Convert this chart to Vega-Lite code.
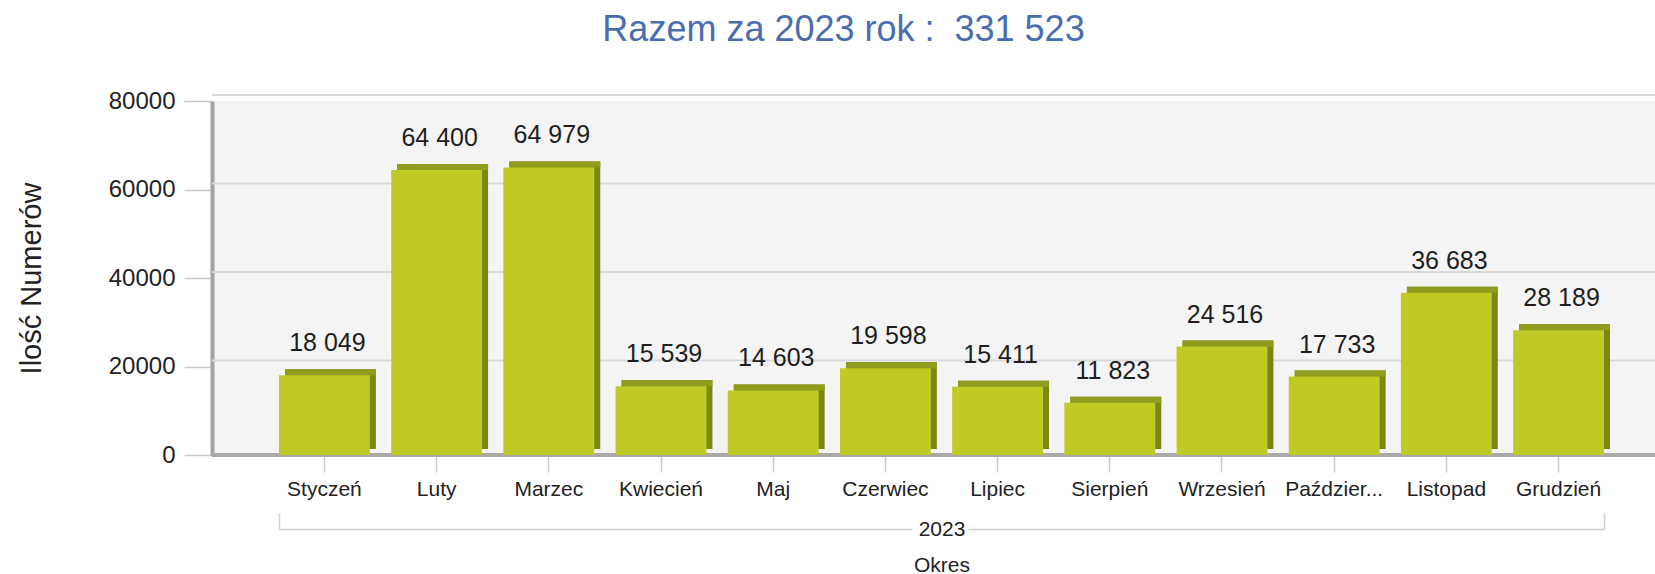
{
  "$schema": "https://vega.github.io/schema/vega-lite/v6.json",
  "width": 1443,
  "height": 354,
  "autosize": {"type": "none"},
  "padding": {"left": 212, "top": 101, "right": 0, "bottom": 119},
  "background": "white",
  "title": {
    "text": "Razem za 2023 rok :\u00a0 331 523",
    "anchor": "middle",
    "frame": "group",
    "dx": -90,
    "offset": 12,
    "baseline": "alphabetic",
    "font": "Liberation Sans",
    "fontSize": 36,
    "fontWeight": "normal",
    "color": "#4a6db0"
  },
  "config": {
    "view": {"fill": "#f4f4f4", "stroke": null},
    "locale": {"number": {"decimal": ",", "thousands": " ", "grouping": [3], "currency": ["", " zł"]}},
    "axis": {"grid": false, "labelFont": "Liberation Sans", "titleFont": "Liberation Sans"}
  },
  "datasets": {
    "months": [
      {"miesiac": "Styczeń", "rok": "2023", "wartosc": 18049},
      {"miesiac": "Luty", "rok": "2023", "wartosc": 64400},
      {"miesiac": "Marzec", "rok": "2023", "wartosc": 64979},
      {"miesiac": "Kwiecień", "rok": "2023", "wartosc": 15539},
      {"miesiac": "Maj", "rok": "2023", "wartosc": 14603},
      {"miesiac": "Czerwiec", "rok": "2023", "wartosc": 19598},
      {"miesiac": "Lipiec", "rok": "2023", "wartosc": 15411},
      {"miesiac": "Sierpień", "rok": "2023", "wartosc": 11823},
      {"miesiac": "Wrzesień", "rok": "2023", "wartosc": 24516},
      {"miesiac": "Październik", "rok": "2023", "wartosc": 17733},
      {"miesiac": "Listopad", "rok": "2023", "wartosc": 36683},
      {"miesiac": "Grudzień", "rok": "2023", "wartosc": 28189}
    ],
    "grid": [{"g": 20000}, {"g": 40000}, {"g": 60000}, {"g": 80000}]
  },
  "layer": [
    {
      "data": {"name": "months"},
      "layer": [
        {
          "data": {"name": "grid"},
          "mark": {"type": "rule", "color": "#d9d9d9", "strokeWidth": 2, "yOffset": -6, "xOffset": 6},
          "encoding": {
            "y": {
              "field": "g",
              "type": "quantitative",
              "scale": {"domain": [0, 80000], "nice": false},
              "axis": {
                "title": "Ilość Numerów",
                "values": [0, 20000, 40000, 60000, 80000],
                "format": "d",
                "labelFontSize": 24,
                "labelColor": "#222222",
                "labelPadding": 9,
                "tickSize": 28,
                "tickColor": "#c8c8c8",
                "tickWidth": 1.5,
                "domainColor": "#a3a3a3",
                "domainWidth": 4,
                "titleFontSize": 29,
                "titleFontWeight": "normal",
                "titleColor": "#222222",
                "titleX": -172,
                "titleY": 177,
                "titleBaseline": "alphabetic"
              }
            }
          }
        },
        {
          "data": {"name": "grid"},
          "mark": {"type": "rule", "color": "#a9a9a9", "strokeWidth": 4},
          "encoding": {"y": {"datum": 0, "type": "quantitative"}}
        },
        {
          "mark": {"type": "bar", "color": "#7c8613", "xOffset": 6, "yOffset": -6},
          "encoding": {
            "x": {
              "field": "miesiac",
              "type": "nominal",
              "sort": null,
              "scale": {"type": "band", "range": [67, 1392], "paddingInner": 0.19, "paddingOuter": 0},
              "axis": {
                "title": null,
                "labelAngle": 0,
                "labelAlign": "center",
                "labelFontSize": 21,
                "labelColor": "#222222",
                "labelPadding": 6,
                "tickSize": 17,
                "tickColor": "#cccccc",
                "tickWidth": 1.5,
                "domain": false,
                "labelExpr": "datum.label == 'Październik' ? 'Paździer...' : datum.label"
              }
            },
            "y": {"field": "wartosc", "type": "quantitative"}
          }
        },
        {
          "mark": {"type": "bar", "color": "#8f9c1d", "xOffset": 6, "yOffset": -6},
          "encoding": {
            "x": {"field": "miesiac", "type": "nominal", "sort": null},
            "y": {"field": "wartosc", "type": "quantitative"},
            "y2": {"field": "wartosc"}
          }
        },
        {
          "mark": {"type": "bar", "color": "#bfcb24"},
          "encoding": {
            "x": {"field": "miesiac", "type": "nominal", "sort": null},
            "y": {"field": "wartosc", "type": "quantitative"}
          }
        },
        {
          "mark": {"type": "text", "dx": 3, "dy": -24, "baseline": "alphabetic", "font": "Liberation Sans", "fontSize": 25, "color": "#1e1e1e"},
          "encoding": {
            "x": {"field": "miesiac", "type": "nominal", "sort": null},
            "y": {"field": "wartosc", "type": "quantitative"},
            "text": {"field": "wartosc", "type": "quantitative", "format": ",d"}
          }
        }
      ]
    },
    {
      "data": {"name": "months"},
      "mark": {"type": "point", "opacity": 0},
      "encoding": {
        "x": {
          "field": "rok",
          "type": "nominal",
          "scale": {"type": "band", "range": [67, 1392], "paddingInner": 0, "paddingOuter": 0},
          "axis": {
            "orient": "bottom",
            "offset": 74,
            "title": "Okres",
            "titleFontSize": 21,
            "titleFontWeight": "normal",
            "titleColor": "#222222",
            "titleBaseline": "alphabetic",
            "titleY": 42,
            "labelAngle": 0,
            "labelAlign": "center",
            "labelFontSize": 21,
            "labelColor": "#222222",
            "labelBaseline": "middle",
            "labelPadding": 16,
            "tickSize": -16,
            "tickBand": "extent",
            "tickColor": "#d0d0d0",
            "tickWidth": 1.5,
            "domainColor": "#d0d0d0",
            "domainWidth": 1.5,
            "domainDash": [633, 56, 1000]
          }
        }
      }
    }
  ],
  "resolve": {"scale": {"x": "independent"}, "axis": {"x": "independent"}}
}
